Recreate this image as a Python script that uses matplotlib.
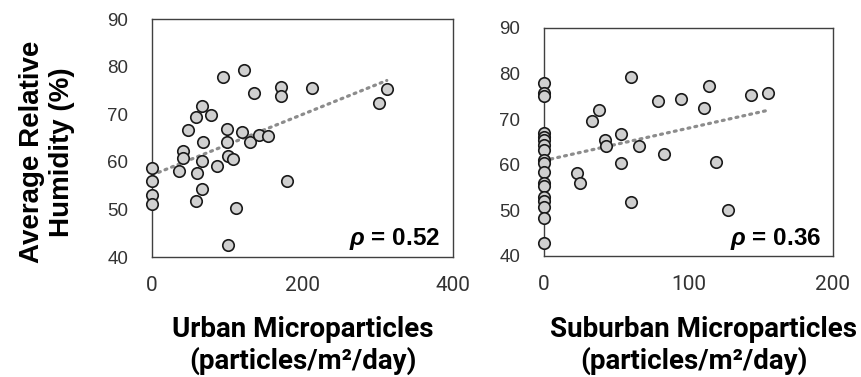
import numpy as np
import matplotlib.pyplot as plt

plt.rcParams['mathtext.fontset'] = 'custom'
plt.rcParams['mathtext.it'] = 'Liberation Sans:italic:bold'
plt.rcParams['mathtext.rm'] = 'Liberation Sans:bold'

# urban panel
urban_x = [0, 0, 0, 0, 36, 41, 41, 48, 58, 66, 78, 68, 66, 60, 67, 59, 87,
           95, 122, 100, 100, 101, 107, 119, 130, 142, 154, 136, 172, 172,
           213, 179, 111, 101, 301, 312]
urban_y = [58.6, 55.9, 53.0, 51.1, 58.0, 62.3, 60.7, 66.7, 69.5, 71.8, 69.8,
           64.1, 60.1, 57.7, 54.3, 51.8, 59.2, 77.9, 79.2, 66.9, 64.2, 61.3,
           60.5, 66.3, 64.1, 65.7, 65.4, 74.4, 75.7, 73.8, 75.6, 55.9, 50.2,
           42.5, 72.4, 75.3]

# suburban panel
sub_x = [0] * 18 + [23, 25, 33, 38, 42, 43, 53, 53, 60, 60, 66, 79, 95, 83,
                    111, 114, 119, 127, 143, 155]
sub_y = [77.9, 75.7, 75.1, 67.0, 66.2, 65.4, 64.3, 63.2, 61.1, 60.5, 58.5,
         55.9, 55.4, 53.0, 52.1, 50.8, 48.3, 42.8,
         58.1, 56.0, 69.5, 72.1, 65.5, 64.2, 66.8, 60.5, 79.2, 51.9, 64.2,
         74.0, 74.5, 62.4, 72.4, 77.3, 60.7, 50.1, 75.3, 75.7]

rho_labels = ["0.52", "0.36"]
xlabels = [("Urban Microparticles", "(particles/m²/day)"),
           ("Suburban Microparticles", "(particles/m²/day)")]
xlims = [(0, 400), (0, 200)]
xticks = [[0, 200, 400], [0, 100, 200]]

W, H = 861, 377
fig = plt.figure(figsize=(W / 100, H / 100), dpi=100)
ax1 = fig.add_axes([152 / W, 1 - 257 / H, 301 / W, 238 / H])
ax2 = fig.add_axes([544 / W, 1 - 256 / H, 289 / W, 228 / H])

for ax, x, y, rho, lim, xt in zip(
        [ax1, ax2], [urban_x, sub_x], [urban_y, sub_y],
        rho_labels, xlims, xticks):
    x = np.array(x, dtype=float)
    y = np.array(y, dtype=float)
    ax.scatter(x, y, s=68, facecolor='#d0d0d0', edgecolor='#1a1a1a',
               linewidth=1.2, zorder=3, clip_on=False)
    m, b = np.polyfit(x, y, 1)
    xx = np.array([0, x.max()])
    ax.plot(xx, m * xx + b, color='#8c8c8c', linestyle=(0, (0.6, 1.6)),
            linewidth=2.3, dash_capstyle='round', zorder=2)
    ax.set_xlim(*lim)
    ax.set_ylim(40, 90)
    ax.set_xticks(xt)
    ax.set_yticks(range(40, 91, 10))
    ax.tick_params(length=0, colors='#333333')
    ax.tick_params(axis='y', pad=17, labelsize=13.5)
    ax.tick_params(axis='x', pad=14, labelsize=15)
    for lbl in ax.get_yticklabels():
        lbl.set_family('Liberation Sans')
    for lbl in ax.get_xticklabels():
        lbl.set_family('Roboto')
    for sp in ax.spines.values():
        sp.set_color('#404040')
        sp.set_linewidth(1.0)
    ax.text(0.958, 0.05, r'$\rho$ = ' + rho, transform=ax.transAxes,
            ha='right', va='baseline', fontsize=17.5, fontweight='bold',
            family='Liberation Sans')

# axis titles
for cx, (l1, l2) in zip([(303, 303), (704, 694)], xlabels):
    fig.text(cx[0] / W, 1 - 337 / H, l1, ha='center', va='baseline',
             fontsize=20, fontweight='bold', family='Roboto')
    fig.text(cx[1] / W, 1 - 369 / H, l2, ha='center', va='baseline',
             fontsize=20, fontweight='bold', family='Roboto')

fig.text(47 / W, 1 - 152 / H, "Average Relative\nHumidity (%)",
         rotation=90, ha='center', va='center', fontsize=20,
         fontweight='bold', family='Liberation Sans')

fig.savefig('out.png', dpi=100)
